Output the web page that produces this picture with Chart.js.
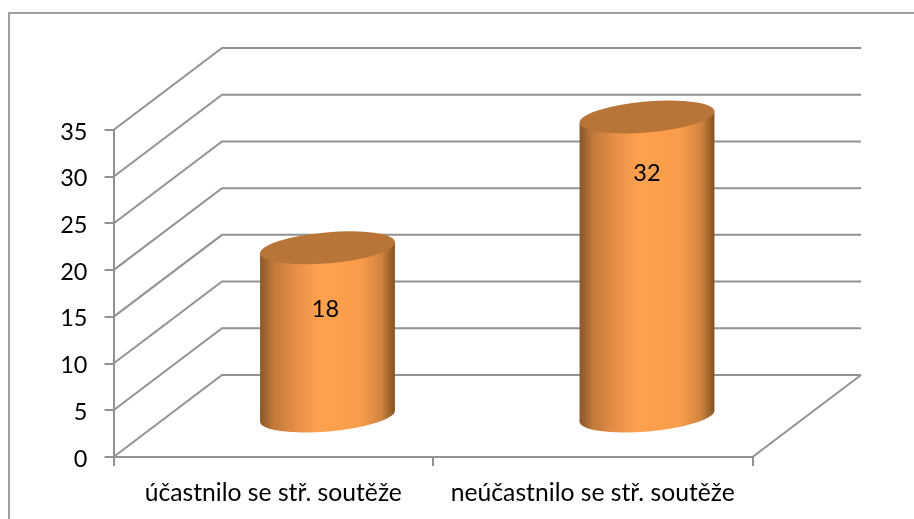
<!DOCTYPE html>
<html>
<head>
<meta charset="utf-8">
<title>Soutěž</title>
<script src="https://cdn.jsdelivr.net/npm/chart.js@4"></script>
<style>
  html, body { margin: 0; padding: 0; background: #fff; overflow: hidden; }
  canvas { display: block; }
</style>
</head>
<body>
<canvas id="myChart" width="914" height="519"></canvas>
<script>
const categories = ['účastnilo se stř. soutěže', 'neúčastnilo se stř. soutěže'];
const values = [18, 32];
const yTicks = [0, 5, 10, 15, 20, 25, 30, 35];

// depth of the fake 3D box, in pixels
const depthX = 108.5;
const depthY = 82;
const lineColor = '#929292';

// tilted ellipse of the cylinder caps
const capA = 67.7;
const capB = 15.5;
const capTilt = -4.9 * Math.PI / 180;
const capTipY = 5.5;

// the value labels are not centred in the original
const labelShiftX = [-2, 0];
const labelShiftY = [61.5, 56];

function line(ctx, pts) {
    ctx.beginPath();
    pts.forEach((p, i) => i ? ctx.lineTo(p[0], p[1]) : ctx.moveTo(p[0], p[1]));
    ctx.stroke();
}

const box3d = {
    id: 'box3d',
    beforeDraw(chart) {
        const ctx = chart.ctx;
        ctx.save();
        // outer frame, runs off the crop on the right and bottom
        ctx.strokeStyle = '#a0a0a0';
        ctx.lineWidth = 2;
        line(ctx, [[9, 519], [9, 13], [914, 13]]);
        ctx.restore();
    },
    beforeDatasetsDraw(chart) {
        const ctx = chart.ctx;
        const { left, right } = chart.chartArea;
        const y = chart.scales.y;
        ctx.save();
        ctx.strokeStyle = lineColor;
        ctx.lineWidth = 2;
        yTicks.forEach(v => {
            const py = y.getPixelForValue(v);
            line(ctx, [[left, py], [left + depthX, py - depthY], [right + depthX, py - depthY]]);
        });
        // right edge of the floor
        const base = y.getPixelForValue(0);
        line(ctx, [[right, base], [right + depthX, base - depthY]]);
        // Lato sits too high with the middle baseline, so the y labels go here
        ctx.fillStyle = '#000';
        ctx.font = '23.5px Lato';
        ctx.textAlign = 'right';
        ctx.textBaseline = 'middle';
        yTicks.forEach(v => ctx.fillText(String(v), 87.5, y.getPixelForValue(v) + 2));
        ctx.restore();
    },
    afterDatasetsDraw(chart) {
        const ctx = chart.ctx;
        const bars = chart.getDatasetMeta(0).data;
        bars.forEach((bar, i) => {
            const hw = bar.width / 2;
            const cx = bar.x + depthX / 2;
            const topY = bar.y - depthY / 2;
            const botY = bar.base - depthY / 2 + 1;

            const grad = ctx.createLinearGradient(cx - hw, 0, cx + hw, 0);
            grad.addColorStop(0, '#8a5628');
            grad.addColorStop(0.1, '#c27a3c');
            grad.addColorStop(0.3, '#ed9349');
            grad.addColorStop(0.45, '#ffa24f');
            grad.addColorStop(0.75, '#f99c4b');
            grad.addColorStop(0.9, '#d08440');
            grad.addColorStop(1, '#83521f');

            ctx.save();
            ctx.fillStyle = grad;
            ctx.beginPath();
            ctx.moveTo(cx - hw, topY + capTipY);
            ctx.lineTo(cx + hw, topY - capTipY);
            ctx.lineTo(cx + hw, botY - capTipY);
            ctx.lineTo(cx - hw, botY + capTipY);
            ctx.closePath();
            ctx.fill();
            ctx.beginPath();
            ctx.ellipse(cx, botY, capA, capB, capTilt, 0, Math.PI * 2);
            ctx.fill();

            ctx.fillStyle = '#b97437';
            ctx.beginPath();
            ctx.ellipse(cx, topY, capA, capB, capTilt, 0, Math.PI * 2);
            ctx.fill();

            ctx.fillStyle = '#000';
            ctx.font = '23.5px Lato';
            ctx.textAlign = 'center';
            ctx.textBaseline = 'middle';
            ctx.fillText(String(values[i]), cx + labelShiftX[i], topY + labelShiftY[i]);
            ctx.restore();
        });
    }
};

const ctx = document.getElementById('myChart').getContext('2d');
const myChart = new Chart(ctx, {
    type: 'bar',
    data: {
        labels: categories,
        datasets: [{
            data: values,
            backgroundColor: 'rgba(0,0,0,0)',
            categoryPercentage: 1,
            barPercentage: 0.422
        }]
    },
    plugins: [box3d],
    options: {
        responsive: false,
        animation: false,
        layout: { padding: { top: 130, right: 161.5, left: 0, bottom: 0 } },
        plugins: { legend: { display: false }, tooltip: { enabled: false } },
        scales: {
            x: {
                afterFit: s => { s.height = 62; },
                border: { color: lineColor, width: 2 },
                grid: { drawOnChartArea: false, drawTicks: true, tickLength: 9, tickColor: lineColor, lineWidth: 2 },
                ticks: { color: '#000', font: { family: 'Lato', size: 24.7 }, padding: 12, maxRotation: 0, autoSkip: false }
            },
            y: {
                min: 0,
                max: 35,
                afterFit: s => { s.width = 113.5; },
                border: { color: lineColor, width: 2 },
                grid: { drawOnChartArea: false, drawTicks: true, tickLength: 9, tickColor: lineColor, lineWidth: 2 },
                ticks: { stepSize: 5, display: false }
            }
        }
    }
});
</script>
</body>
</html>
